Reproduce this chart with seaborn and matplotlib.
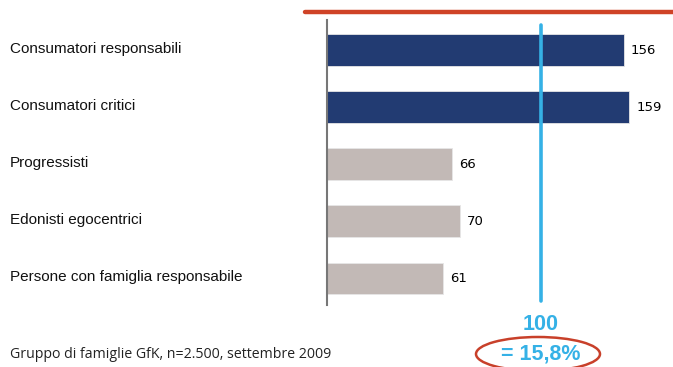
import matplotlib
matplotlib.use("Agg")
import matplotlib.pyplot as plt
import seaborn as sns
import pandas as pd
from matplotlib.patches import Ellipse
from matplotlib.lines import Line2D

categories = ["Consumatori responsabili", "Consumatori critici", "Progressisti",
              "Edonisti egocentrici", "Persone con famiglia responsabile"]
values = [156, 159, 66, 70, 61]
colors = ["#223B72", "#223B72", "#C2B9B6", "#C2B9B6", "#C2B9B6"]
ref_pos = 112.6
ref_label = "100"
ref_share = "= 15,8%"
footer = "Gruppo di famiglie GfK, n=2.500, settembre 2009"

sns.set_style("white")
plt.rcParams['font.family'] = ['Liberation Sans', 'DejaVu Sans']

fig = plt.figure(figsize=(6.73, 3.67), dpi=100)
ax = fig.add_axes([327/673, 1-305/367, 346/673, 285/367])

df = pd.DataFrame({"cat": categories, "val": values})
sns.barplot(data=df, x="val", y="cat", hue="cat", palette=colors, legend=False,
            width=0.55, ax=ax, edgecolor="#E6E6E6", linewidth=0.6, saturation=1)

for c in ax.containers:
    ax.bar_label(c, padding=5, fontsize=9.5, family="DejaVu Sans", color="black")

ax.set_xlim(0, 182)
ax.set_ylim(4.47, -0.526)
ax.set_xlabel("")
ax.set_ylabel("")
ax.set_xticks([])
ax.set_yticks([])
for s in ["top", "right", "bottom"]:
    ax.spines[s].set_visible(False)
ax.spines["left"].set_color("#777777")
ax.spines["left"].set_linewidth(1.5)

ax.plot([ref_pos, ref_pos], [4.40, -0.44], color="#35B1E6", lw=2.6, clip_on=False)

for i, cat in enumerate(categories):
    fig.text(10/673, 1 - (49 + 57.1*i)/367, cat, fontsize=11.0, va="center", ha="left",
             color="#111111")

# top red line
fig.add_artist(Line2D([305/673, 1.0], [1-12/367, 1-12/367], color="#CF4327", lw=3.2))

fig.text(10/673, 1-355/367, footer, fontsize=10.2, va="center", ha="left",
         family=["Open Sans", "DejaVu Sans"], color="#222222")
fig.text(541/673, 1-325/367, ref_label, fontsize=15.5, fontweight="bold", va="center",
         ha="center", color="#35B1E6")
fig.text(541/673, 1-354/367, ref_share, fontsize=15.5, fontweight="bold", va="center",
         ha="center", color="#35B1E6")
fig.add_artist(Ellipse((538/673, 1-354/367), 124/673, 34/367, transform=fig.transFigure,
                       fill=False, edgecolor="#C8402A", lw=1.8))

fig.savefig("out.png", dpi=100)
